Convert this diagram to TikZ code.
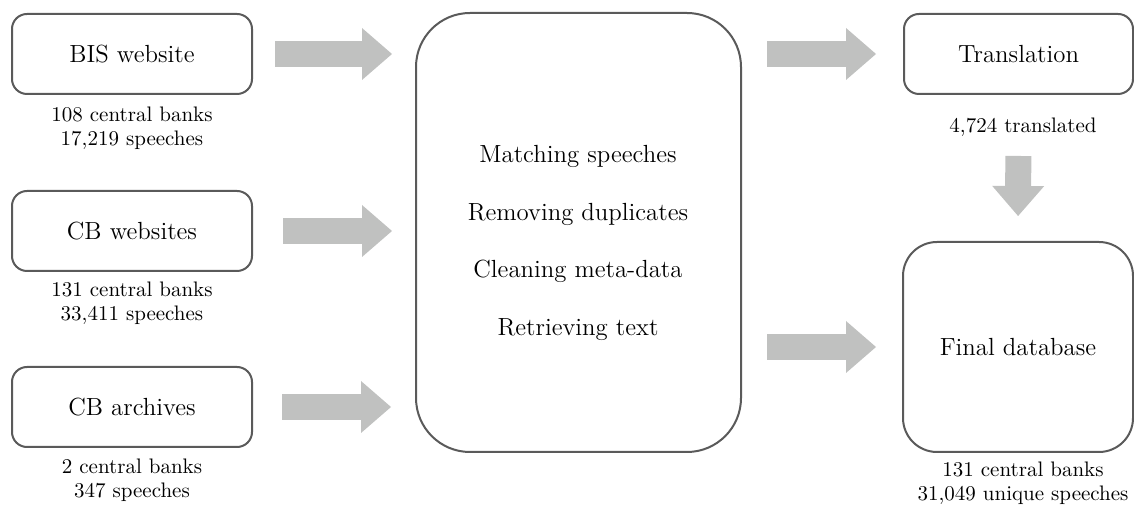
\documentclass[tikz,border=0pt]{standalone}
\usepackage{fontspec}
\usetikzlibrary{arrows.meta}

\definecolor{boxline}{HTML}{5A5A5A}
\definecolor{arrowgray}{HTML}{C0C1C0}

\tikzset{every picture/.style={line width=1pt}}

\begin{document}
\begin{tikzpicture}[x=0.5pt,y=0.5pt,yscale=-1,
	srcbox/.style={draw=boxline,rounded corners=7.5pt,minimum width=120pt,minimum height=40pt,inner sep=0pt,font=\fontsize{12.4}{14}\selectfont},
	countlab/.style={align=center,inner sep=0pt,font=\fontsize{10.5}{12}\selectfont},
	bigarrow/.style={draw=arrowgray,line width=13pt,-{Triangle[width=26pt,length=15pt,line width=0pt,fill=arrowgray]}}]
	\useasboundingbox (0,0) rectangle (1134,506);
	
	% sources
	\node[srcbox] (bis) at (132,54) {BIS website};
	\node[srcbox] (cbweb) at (132,231) {CB websites};
	\node[srcbox] (cbarch) at (132,407) {CB archives};
	
	\node[countlab] (bislab) at (132,128) {108 central banks\\17,219 speeches};
	\node[countlab] (cbweblab) at (132,303) {131 central banks\\33,411 speeches};
	\node[countlab] (cbarchlab) at (132,480) {2 central banks\\347 speeches};
	
	% processing
	\node[draw=boxline,rounded corners=27pt,minimum width=162.5pt,minimum height=219.5pt] (proc) at (578.5,232.5) {};
	\node[align=center,inner sep=0pt,font=\fontsize{12.4}{28.8}\selectfont] (steps) at (578,243) {Matching speeches\\Removing duplicates\\Cleaning meta-data\\Retrieving text};
	
	% output
	\node[srcbox,minimum width=114.5pt] (transl) at (1018.5,54) {Translation};
	\node[countlab] (transllab) at (1023,127) {4,724 translated};
	\node[srcbox,rounded corners=17pt,minimum width=115pt,minimum height=105pt] (finaldb) at (1018,347) {Final database};
	\node[countlab] (finaldblab) at (1023,483) {131 central banks\\31,049 unique speeches};
	
	% arrows
	\draw[bigarrow,shorten <=11pt,shorten >=11.5pt] (bis.east) -- (proc.west |- bis.east);
	\draw[bigarrow,shorten <=15pt,shorten >=11.5pt] (cbweb.east) -- (proc.west |- cbweb.east);
	\draw[bigarrow,shorten <=14.5pt,shorten >=12pt] (cbarch.east) -- (proc.west |- cbarch.east);
	\draw[bigarrow,shorten <=12.5pt,shorten >=13.5pt] (proc.east |- transl.west) -- (transl.west);
	\draw[bigarrow,shorten <=12.5pt,shorten >=13pt] (proc.east |- finaldb.west) -- (finaldb.west);
	\draw[bigarrow,shorten <=30.5pt,shorten >=12.5pt] (transl.south) -- (finaldb.north);
	
\end{tikzpicture}
\end{document}
